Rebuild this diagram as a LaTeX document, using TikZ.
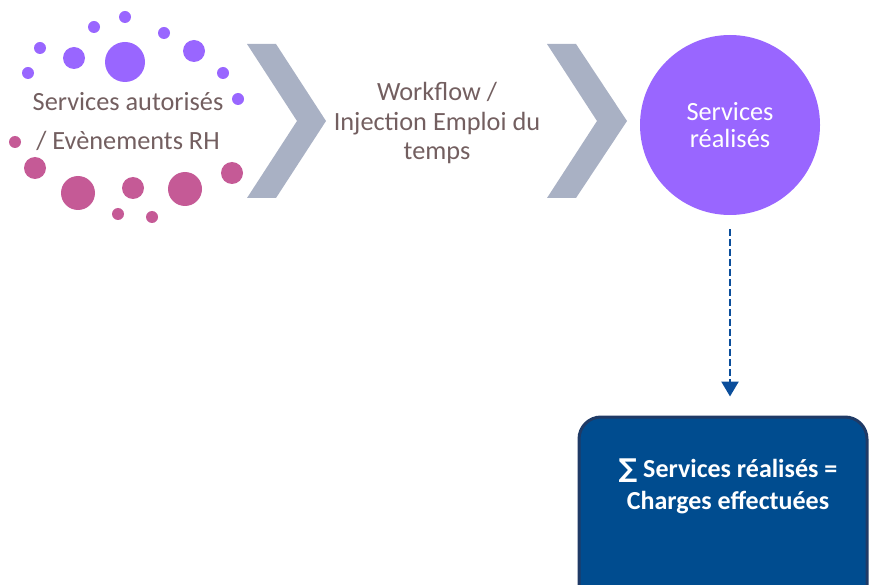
\documentclass[tikz,border=0pt]{standalone}
\usepackage{fontspec}
\setmainfont{Carlito}
\newfontfamily\symfont{DejaVu Sans}
\usetikzlibrary{arrows.meta}
\definecolor{txtgray}{HTML}{735F60}
\definecolor{dotpurple}{HTML}{9966FF}
\definecolor{dotpink}{HTML}{C55A96}
\definecolor{chev}{HTML}{A9B1C4}
\definecolor{boxblue}{HTML}{004C8F}
\definecolor{boxedge}{HTML}{1F3A66}
\definecolor{arrowblue}{HTML}{0B4E9B}
\tikzset{
  lbl/.style={text=txtgray, align=center, inner sep=0pt, font=\fontsize{26.3}{29.5}\selectfont},
  pdot/.style={fill=dotpurple},
  kdot/.style={fill=dotpink},
  chevron/.style={fill=chev, draw=none},
}
\begin{document}
\begin{tikzpicture}[x=1pt,y=-1pt]
\useasboundingbox (0,0) rectangle (869,585);
% purple dots
\fill[pdot] (125,17) circle (6);
\fill[pdot] (94,27) circle (6);
\fill[pdot] (164,33) circle (6);
\fill[pdot] (40,48) circle (6);
\fill[pdot] (74,58) circle (11);
\fill[pdot] (125,62) circle (20);
\fill[pdot] (194,51) circle (11);
\fill[pdot] (28,73) circle (6);
\fill[pdot] (223,73) circle (6);
\fill[pdot] (238,99) circle (6);
% pink dots
\fill[kdot] (15,142) circle (6);
\fill[kdot] (35,168) circle (11);
\fill[kdot] (78,193) circle (17);
\fill[kdot] (133,188) circle (11);
\fill[kdot] (185,189) circle (17);
\fill[kdot] (232,173) circle (11);
\fill[kdot] (118,214) circle (6);
\fill[kdot] (152,217) circle (6);
% left text
\node[lbl] (auth1) at (128,102) {Services autorisés};
\node[lbl] (auth2) at (128,141) {/ Evènements RH};
% chevrons
\fill[chevron] (247,44) -- (276,44) -- (326,121) -- (276,198) -- (247,198) -- (297,121) -- cycle;
\fill[chevron] (547,44) -- (576,44) -- (627,121) -- (576,198) -- (547,198) -- (597,121) -- cycle;
% middle text
\node[lbl] (wf) at (437,123) {Workflow /\\Injection Emploi du\\temps};
% circle
\node[circle, fill=dotpurple, minimum size=180pt, inner sep=0pt, text=white, align=center,
      font=\fontsize{26.3}{26.5}\selectfont] (circ) at (730,125) {Services\\réalisés};
% box
\node[draw=boxedge, line width=3pt, fill=boxblue, rounded corners=22pt,
      minimum width=288pt, minimum height=200pt, inner sep=0pt] (box) at (723,517) {};
\node[text=white, align=center, inner sep=0pt, font=\fontsize{26}{32}\selectfont\bfseries]
      (boxtxt) at (728,486) {{\symfont ∑} Services réalisés =\\Charges effectuées};
% arrow
\draw[arrowblue, line width=2.5pt, dash pattern=on 7pt off 3pt,
      shorten <=14pt, shorten >=19pt,
      -{Triangle[width=17pt,length=15pt]}] (circ.south) -- (circ.south |- box.north);
\end{tikzpicture}
\end{document}
